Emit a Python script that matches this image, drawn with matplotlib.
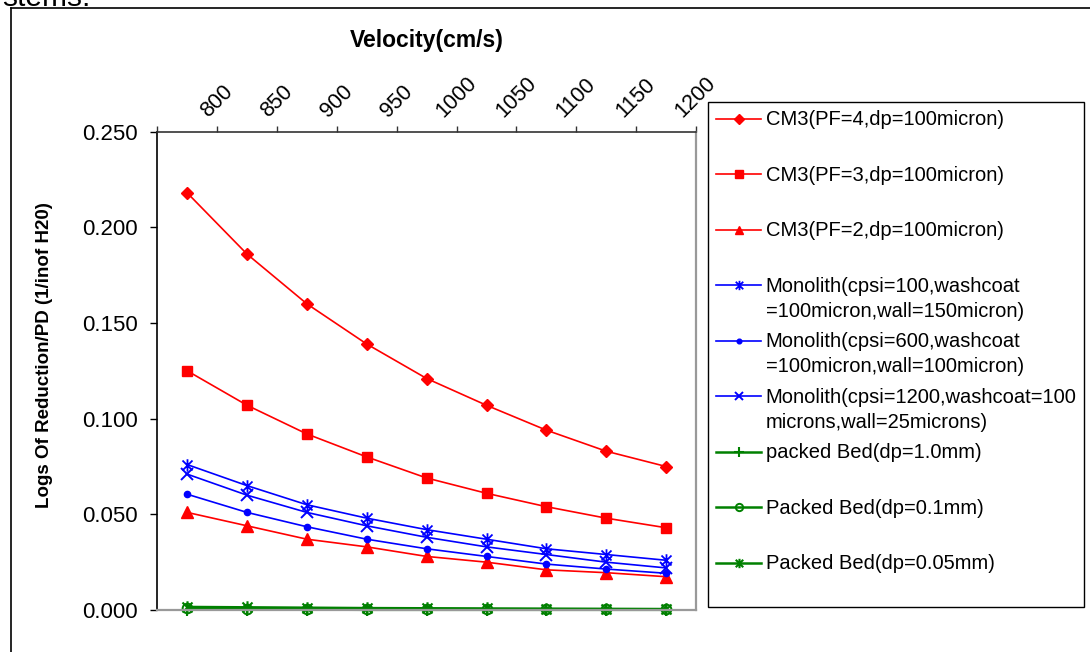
import matplotlib
matplotlib.use("Agg")
import matplotlib.pyplot as plt
from matplotlib.path import Path
from matplotlib.legend_handler import HandlerLine2D

# ---------------- data ----------------
velocity = [775, 825, 875, 925, 975, 1025, 1075, 1125, 1175]
x_ticks = [750, 800, 850, 900, 950, 1000, 1050, 1100, 1150, 1200]
x_tick_labels = ["", "800", "850", "900", "950", "1000", "1050", "1100", "1150", "1200"]
y_ticks = [0.0, 0.05, 0.10, 0.15, 0.20, 0.25]

cm3_pf4 = [0.218, 0.186, 0.160, 0.139, 0.121, 0.107, 0.094, 0.083, 0.075]
cm3_pf3 = [0.125, 0.107, 0.092, 0.080, 0.069, 0.061, 0.054, 0.048, 0.043]
cm3_pf2 = [0.051, 0.044, 0.037, 0.033, 0.028, 0.025, 0.021, 0.0195, 0.0174]
mono_100 = [0.076, 0.065, 0.055, 0.048, 0.042, 0.037, 0.032, 0.029, 0.026]
mono_600 = [0.0605, 0.051, 0.0435, 0.037, 0.032, 0.028, 0.024, 0.0214, 0.0192]
mono_1200 = [0.071, 0.060, 0.051, 0.044, 0.038, 0.033, 0.029, 0.025, 0.022]
pb_1mm = [0.0002, 0.0002, 0.0002, 0.0001, 0.0001, 0.0001, 0.0001, 0.0001, 0.0001]
pb_01mm = [0.0008, 0.0007, 0.0006, 0.0005, 0.00045, 0.0004, 0.00035, 0.0003, 0.0003]
pb_005mm = [0.0016, 0.0014, 0.0012, 0.0010, 0.0009, 0.0008, 0.0007, 0.0006, 0.0005]

labels = [
    "CM3(PF=4,dp=100micron)\n",
    "CM3(PF=3,dp=100micron)\n",
    "CM3(PF=2,dp=100micron)\n",
    "Monolith(cpsi=100,washcoat\n=100micron,wall=150micron)",
    "Monolith(cpsi=600,washcoat\n=100micron,wall=100micron)",
    "Monolith(cpsi=1200,washcoat=100\nmicrons,wall=25microns)",
    "packed Bed(dp=1.0mm)\n",
    "Packed Bed(dp=0.1mm)\n",
    "Packed Bed(dp=0.05mm)\n",
]

# ---------------- style ----------------
plt.rcParams['font.family'] = ['Liberation Sans', 'DejaVu Sans']
W, H = 1090, 652
fig = plt.figure(figsize=(W / 100, H / 100), dpi=100)

L, R, T, B = 157.3, 696.0, 131.7, 610.0
ax = fig.add_axes([L / W, 1 - B / H, (R - L) / W, (B - T) / H])

asterisk = Path([(-1, -1), (1, 1), (-1, 1), (1, -1), (0, -1.25), (0, 1.25)],
                [Path.MOVETO, Path.LINETO, Path.MOVETO, Path.LINETO, Path.MOVETO, Path.LINETO])

RED, BLUE, GREEN = "#FF0000", "#0000FF", "#008000"
series = [
    (cm3_pf4, dict(color=RED, marker="D", ms=6.5, lw=1.2)),
    (cm3_pf3, dict(color=RED, marker="s", ms=7.5, lw=1.2)),
    (cm3_pf2, dict(color=RED, marker="^", ms=8.5, lw=1.2)),
    (mono_100, dict(color=BLUE, marker=asterisk, ms=9, mew=1.3, lw=1.2)),
    (mono_600, dict(color=BLUE, marker="o", ms=4.5, lw=1.2)),
    (mono_1200, dict(color=BLUE, marker="x", ms=8, mew=1.4, lw=1.2)),
    (pb_1mm, dict(color=GREEN, marker="+", ms=9, mew=1.5, lw=1.8)),
    (pb_01mm, dict(color=GREEN, marker="o", ms=7, mfc="none", mew=1.4, lw=1.8)),
    (pb_005mm, dict(color=GREEN, marker=asterisk, ms=9, mew=1.5, lw=1.8)),
]
handles = []
for vals, kw in series:
    (ln,) = ax.plot(velocity, vals, clip_on=False, **kw)
    handles.append(ln)

ax.set_xlim(750, 1200)
ax.set_ylim(0, 0.25)
ax.set_xticks(x_ticks)
ax.set_xticklabels(x_tick_labels)
ax.set_yticks(y_ticks)
ax.set_yticklabels([f"{v:.3f}" for v in y_ticks])
ax.xaxis.tick_top()
ax.tick_params(axis="x", direction="out", length=4.5, width=1.0, color="#333333",
               labelsize=15.5, pad=3, labelrotation=45)
ax.tick_params(axis="y", direction="out", length=5, width=1.0, color="black",
               labelsize=16, pad=9)
for t in ax.get_xticklabels():
    t.set_ha("center")

for side, col, lw in [("left", "black", 1.2), ("top", "#333333", 1.2),
                      ("right", "#999999", 1.6), ("bottom", "#999999", 1.6)]:
    ax.spines[side].set_color(col)
    ax.spines[side].set_linewidth(lw)

ax.set_xlabel("Velocity(cm/s)", fontsize=16.5, fontweight="bold")
ax.xaxis.set_label_position("top")
ax.xaxis.set_label_coords(0.5, (B - 40) / (B - T))
ax.xaxis.label.set_va("center")
ax.set_ylabel("Logs Of Reduction/PD (1/inof H20)", fontsize=13.5, fontweight="bold")
ax.yaxis.set_label_coords((45 - L) / (R - L), (B - 355) / (B - T))
ax.yaxis.label.set_va("center")
ax.yaxis.label.set_ha("center")


class FirstLineHandler(HandlerLine2D):
    def __init__(self, shift, **kw):
        super().__init__(**kw)
        self.shift = shift

    def create_artists(self, legend, orig_handle, xdescent, ydescent, width, height,
                       fontsize, trans):
        return super().create_artists(legend, orig_handle, xdescent,
                                      ydescent - 2 * self.shift * fontsize,
                                      width, height, fontsize, trans)


hmap = {h: FirstLineHandler(0.7) for h in handles}
lx0, ly0, lx1, ly1 = 708, 102, 1084, 603
leg = fig.legend(handles, labels, loc="upper left",
                 bbox_to_anchor=(lx0 / W, 1 - ly1 / H, (lx1 - lx0) / W, (ly1 - ly0) / H),
                 mode="expand", borderaxespad=0, fontsize=14.5, frameon=True,
                 fancybox=False, edgecolor="black", framealpha=1,
                 handlelength=2.2, handletextpad=0.25, borderpad=0.42,
                 labelspacing=0.57, markerscale=0.75, handler_map=hmap)
leg.get_frame().set_linewidth(1.0)
for t in leg.get_texts():
    t.set_linespacing(1.4)

# outer frame and cut-off text from the source document
fig.add_artist(plt.Line2D([10.5 / W, 10.5 / W], [0, 1 - 8 / H], color="black", lw=1.2,
                          transform=fig.transFigure))
fig.add_artist(plt.Line2D([10.5 / W, 1], [1 - 8 / H, 1 - 8 / H], color="black", lw=1.2,
                          transform=fig.transFigure))
fig.text(2 / W, 1 - 6.5 / H, "stems.", fontsize=21.5, va="baseline", ha="left")

fig.savefig("out.png", dpi=100)
